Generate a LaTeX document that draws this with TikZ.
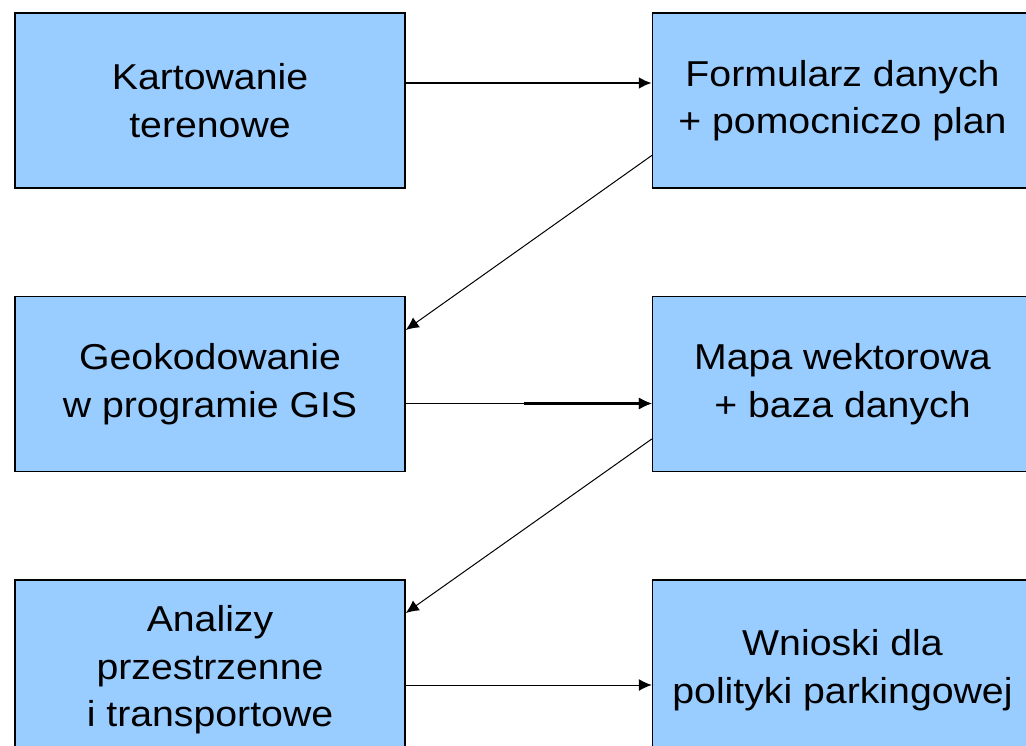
\documentclass[tikz,border=0pt]{standalone}
\usepackage{fontspec}
\setmainfont{Liberation Sans}[FakeStretch=1.09]
\usetikzlibrary{arrows.meta,positioning}
\definecolor{boxblue}{HTML}{99CCFF}

\begin{document}
\begin{tikzpicture}[
  x=1pt, y=-1pt, >={Latex[length=13pt,width=12pt]},
  node distance=107pt and 246pt,
  box/.style={draw, line width=1.5pt, fill=boxblue, align=center,
              minimum width=390pt, minimum height=175pt, inner sep=0pt,
              font=\fontsize{36}{47.5}\selectfont},
  wide/.style={box, minimum width=380pt},
  tall/.style={minimum height=180pt},
  ar/.style={->, line width=1pt},
  arb/.style={->, line width=2.4pt},
]
\useasboundingbox (0,0) rectangle (1026,746);
\node[box] (kart) at (210,100.5) {Kartowanie\\terenowe};
\node[wide, right=of kart] (form) {Formularz danych\\+ pomocniczo plan};
\node[box, below=of kart] (geo) {Geokodowanie\\w programie GIS};
\node[wide, right=of geo] (mapa) {Mapa wektorowa\\+ baza danych};
\node[box, tall, below=of geo] (anal) {Analizy\\przestrzenne\\i transportowe};
\node[wide, tall, right=of anal] (wnio) {Wnioski dla\\polityki parkingowej};

\draw[arb] ([yshift=17.5pt]kart.east) -- ([yshift=17.5pt]form.west);
\draw[ar] ([yshift=-55pt]form.west) -- ([yshift=54pt]geo.east);
\draw[ar] ([yshift=-19.5pt]geo.east) -- coordinate[pos=0.48] (geomid)
  ([yshift=-19.5pt]mapa.west);
\draw[arb] (geomid) -- ([yshift=-19.5pt]mapa.west);
\draw[ar] ([yshift=-55pt]mapa.west) -- ([yshift=57pt]anal.east);
\draw[ar] ([yshift=-15pt]anal.east) -- ([yshift=-15pt]wnio.west);
\end{tikzpicture}
\end{document}
